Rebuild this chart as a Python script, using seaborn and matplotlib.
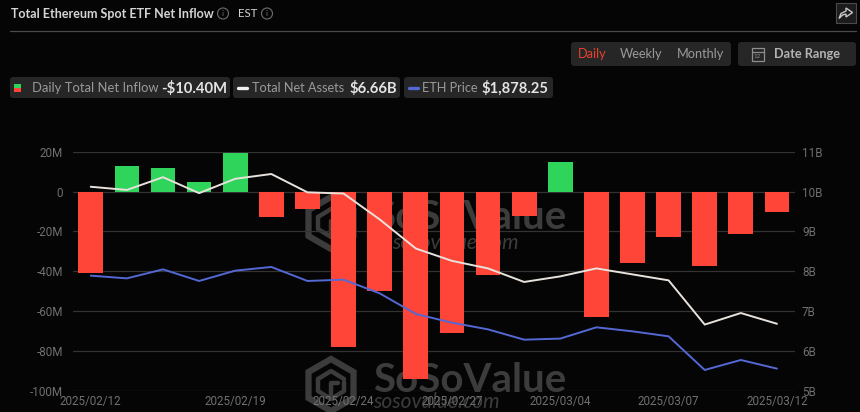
import numpy as np
import pandas as pd
import seaborn as sns
import matplotlib.pyplot as plt
from matplotlib.patches import FancyBboxPatch, RegularPolygon, Circle, Rectangle, Polygon

# data
dates = ['2025/02/12', '2025/02/13', '2025/02/14', '2025/02/18', '2025/02/19',
         '2025/02/20', '2025/02/21', '2025/02/24', '2025/02/25', '2025/02/26',
         '2025/02/27', '2025/02/28', '2025/03/03', '2025/03/04', '2025/03/05',
         '2025/03/06', '2025/03/07', '2025/03/10', '2025/03/11', '2025/03/12']
inflow = [-41.0, 12.9, 11.7, 4.7, 19.1, -12.9, -8.9, -78.0, -50.0, -94.1,
          -71.0, -41.8, -12.1, 14.6, -63.0, -35.7, -23.0, -37.4, -21.3, -10.4]
assets = [10.12, 10.04, 10.36, 9.96, 10.32, 10.44, 9.98, 9.95, 9.30, 8.57,
          8.26, 8.07, 7.73, 7.87, 8.07, 7.92, 7.77, 6.66, 6.95, 6.68]
price = [2735, 2710, 2793, 2686, 2781, 2815, 2686, 2698, 2572, 2382,
         2302, 2240, 2145, 2155, 2259, 2222, 2176, 1866, 1958, 1878.25]
left_ticks = [20, 0, -20, -40, -60, -80, -100]
left_labels = ['20M', '0', '-20M', '-40M', '-60M', '-80M', '-100M']
right_ticks = [11, 10, 9, 8, 7, 6, 5]
right_labels = ['11B', '10B', '9B', '8B', '7B', '6B', '5B']
date_ticks = [0, 4, 7, 10, 13, 16, 19]

BG = '#050505'
CHIP = '#262626'
RED = '#ff4438'
GREEN = '#2fd45a'
WHITE_LINE = '#e8e2dc'
BLUE_LINE = '#5468d4'
GRID = '#333333'
TICK = '#707070'
MARK = '#3c3c3c'

sns.set_theme(style='dark')
plt.rcParams['font.family'] = ['Lato', 'DejaVu Sans']

W, H = 860, 412
fig = plt.figure(figsize=(W / 100, H / 100), dpi=100, facecolor=BG)

# background layer in pixel coordinates
bg = fig.add_axes([0, 0, 1, 1], zorder=0)
bg.set_xlim(0, W)
bg.set_ylim(H, 0)
bg.axis('off')


def chip(x0, y0, x1, y1, color=CHIP):
    bg.add_patch(FancyBboxPatch((x0 + 3, y0 + 3), x1 - x0 - 6, y1 - y0 - 6,
                                boxstyle='round,pad=3', fc=color, ec='none'))


def label(x, y, s, color='#9a9a9a', size=8.8, weight='normal', **kw):
    bg.text(x, y, s, color=color, fontsize=size, fontweight=weight, va='center', **kw)


def info_icon(x, y):
    bg.add_patch(Circle((x, y), 5.5, fc='none', ec='#6e6e6e', lw=0.8))
    bg.text(x, y, 'i', color='#6e6e6e', fontsize=6, ha='center', va='center')


def logo(x, y):
    bg.add_patch(RegularPolygon((x, y), 6, radius=26, fc='none', ec=MARK, lw=4.5))
    # inner cube strokes
    bg.plot([x - 13, x, x + 13], [y - 6, y - 14, y - 6], color=MARK, lw=3.2)
    bg.plot([x - 13, x - 13, x, x + 13, x + 13], [y - 6, y + 6, y + 14, y + 6, y - 3], color=MARK, lw=3.2)
    bg.plot([x, x, x + 7], [y + 14, y - 2, y - 2], color=MARK, lw=3.2)


# header
label(11, 13.5, 'Total Ethereum Spot ETF Net Inflow', color='#d4d4d4', size=9.0, weight='bold')
info_icon(223, 13.5)
label(238, 13.5, 'EST', color='#d4d4d4', size=8.2)
info_icon(267, 13.5)
bg.plot([10, 856], [30.5, 30.5], color='#4a4a4a', lw=0.9)
bg.add_patch(Rectangle((835.5, 3), 20.5, 20, fc='#1c1c1c', ec='#4a4a4a', lw=0.8))
bg.add_patch(Polygon([(839, 18.5), (841, 13.5), (846, 11), (846, 8), (852.5, 12.5),
                      (846, 17), (846, 14), (842.5, 15)],
                     closed=True, fc='none', ec='#c8c8c8', lw=1.0))

# period and date range buttons
chip(571, 42, 731, 66)
chip(738, 42, 856, 66)
label(578, 54, 'Daily', color='#e8412f', size=9.2)
label(620, 54, 'Weekly', size=9.2)
label(677, 54, 'Monthly', size=9.2)
bg.add_patch(Rectangle((751.5, 48), 12, 13, fc='none', ec='#8e8e8e', lw=0.9))
bg.plot([751.5, 763.5], [51.5, 51.5], color='#8e8e8e', lw=0.9)
bg.text(757.5, 56.5, '12', color='#8e8e8e', fontsize=4.5, ha='center', va='center')
label(774, 54, 'Date Range', color='#b4b4b4', size=9.2, weight='bold')

# legend chips
chip(10, 77, 230, 98)
chip(233, 77, 400, 98)
chip(404, 77, 553, 98)
bg.add_patch(Rectangle((14, 84), 7, 4, fc=GREEN, ec='none'))
bg.add_patch(Rectangle((14, 88), 7, 3.5, fc=RED, ec='none'))
label(32, 88, 'Daily Total Net Inflow', size=9.4)
label(161, 88, '-$10.40M', color='#e4e4e4', size=10.6, weight='bold')
bg.plot([238, 247], [87.5, 87.5], color='#f0f0f0', lw=2.4, solid_capstyle='round')
label(252, 88, 'Total Net Assets', size=9.2)
label(349, 88, '$6.66B', color='#e4e4e4', size=10.6, weight='bold')
bg.plot([409, 418], [87.5, 87.5], color=BLUE_LINE, lw=2.4, solid_capstyle='round')
label(422, 88, 'ETH Price', size=9.2)
label(482, 88, '$1,878.25', color='#e4e4e4', size=10.6, weight='bold')

# watermarks
logo(331, 223)
logo(331, 385)
label(373, 217, 'SoSoValue', color=MARK, size=29, weight='bold')
label(373, 380, 'SoSoValue', color=MARK, size=29, weight='bold')
label(392, 243, 'sosovalue.com', color=MARK, size=15, style='italic')
label(373, 402, 'sosovalue.com', color=MARK, size=15, style='italic')

# chart area
x0, x1, y_top, y_bot = 72.7, 795, 151.7, 390.7
ax = fig.add_axes([x0 / W, 1 - y_bot / H, (x1 - x0) / W, (y_bot - y_top) / H], zorder=1)
ax.patch.set_alpha(0)

df = pd.DataFrame({'date': dates, 'inflow': inflow, 'assets': assets, 'price': price})
df['idx'] = np.arange(len(df))
df['side'] = np.where(df['inflow'] >= 0, 'up', 'down')

sns.barplot(data=df, x='date', y='inflow', hue='side', order=dates, dodge=False,
            palette={'up': GREEN, 'down': RED}, width=0.685, legend=False,
            saturation=1, linewidth=0, edgecolor='none', ax=ax, zorder=3)
ax.set_xlim(-0.5, 19.5)
ax.set_ylim(-100, 20)
ax.set_yticks(left_ticks, left_labels)
ax.set_xticks(date_ticks, [dates[i] for i in date_ticks])
ax.set_xlabel('')
ax.set_ylabel('')
ax.grid(False)
ax.yaxis.grid(True, color=GRID, lw=0.9, zorder=0)
ax.set_axisbelow(True)
sns.despine(ax=ax, left=True, bottom=True)
ax.tick_params(axis='y', length=0, pad=7, labelcolor=TICK, labelsize=8.4)
ax.tick_params(axis='x', length=0, pad=3, labelcolor=TICK, labelsize=8.4)
for t in ax.get_xticklabels() + ax.get_yticklabels():
    t.set_fontfamily(['Roboto', 'DejaVu Sans'])

ax_assets = ax.twinx()
sns.lineplot(data=df, x='idx', y='assets', color=WHITE_LINE, lw=1.4, ax=ax_assets)
ax_assets.set_ylim(5, 11)
ax_assets.set_yticks(right_ticks, right_labels)
ax_assets.set_ylabel('')
ax_assets.grid(False)
ax_assets.tick_params(axis='y', length=0, pad=5, labelcolor=TICK, labelsize=8.4)
for t in ax_assets.get_yticklabels():
    t.set_fontfamily(['Roboto', 'DejaVu Sans'])

# price has its own hidden scale
ax_price = ax.twinx()
sns.lineplot(data=df, x='idx', y='price', color=BLUE_LINE, lw=1.4, ax=ax_price)
ax_price.set_ylim(1675, 3877)
ax_price.axis('off')

for a in (ax_assets, ax_price):
    a.patch.set_alpha(0)
    a.set_xlim(-0.5, 19.5)
    for s in a.spines.values():
        s.set_visible(False)

fig.savefig('out.png', dpi=100, facecolor=BG)
